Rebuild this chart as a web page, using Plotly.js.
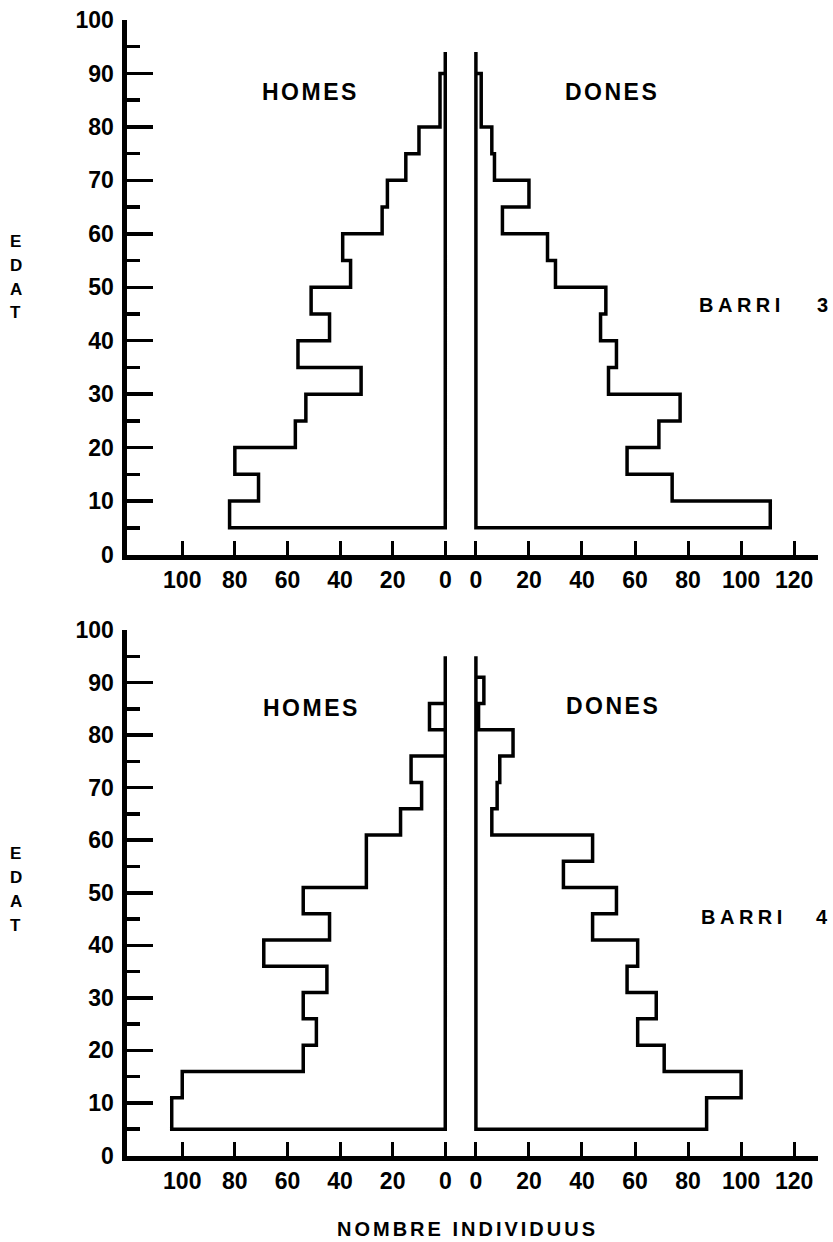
<!DOCTYPE html>
<html>
<head>
<meta charset="utf-8">
<script src="https://cdn.plot.ly/plotly-3.0.1.min.js"></script>
<style>
html,body{margin:0;padding:0;background:#fff;}
#chart{width:833px;height:1242px;}
</style>
</head>
<body>
<div id="chart"></div>
<script>
// ---- data ----
// Barri 3 (top panel): age-group edges and counts
var ageEdges3 = [5,10,15,20,25,30,35,40,45,50,55,60,65,70,75,80,85,90];
var homes3 = [82,71,80,57,53,32,56,44,51,36,39,24,22,15,10,2,2];
var dones3 = [111,74,57,69,77,50,53,47,49,30,27,10,20,7,6,2,2];
var zeroTop3 = 94;

// Barri 4 (bottom panel)
var ageEdges4 = [5,11,16,21,26,31,36,41,46,51,56,61,66,71,76,81,86,91];
var homes4 = [104,100,54,49,54,45,69,44,54,30,30,17,9,13,0,6,0];
var dones4 = [87,100,71,61,68,57,61,44,53,33,44,6,8,9,14,1,3];
var zeroTop4 = 95;

var menTicks = [0,20,40,60,80,100];
var womenTicks = [0,20,40,60,80,100,120];

// ---- geometry helpers ----
var W = 833, H = 1242;
function px(x){ return x / W; }
function py(y){ return 1 - y / H; }

function outline(edges, vals, top){
  var xs = [0, 0], ys = [top, edges[0]];
  for (var i = 0; i < vals.length; i++){
    xs.push(vals[i], vals[i]);
    ys.push(edges[i], edges[i+1]);
  }
  xs.push(0); ys.push(edges[edges.length-1]);
  return {x: xs, y: ys};
}

var lineStyle = {color:'#000', width:3.5};
function trace(o, xa, ya){
  return {type:'scatter', mode:'lines', x:o.x, y:o.y, xaxis:xa, yaxis:ya,
          line:lineStyle, hoverinfo:'skip', showlegend:false, cliponaxis:false};
}

var data = [
  trace(outline(ageEdges3, homes3, zeroTop3), 'x', 'y'),
  trace(outline(ageEdges3, dones3, zeroTop3), 'x2', 'y'),
  trace(outline(ageEdges4, homes4, zeroTop4), 'x3', 'y2'),
  trace(outline(ageEdges4, dones4, zeroTop4), 'x4', 'y2')
];

var F = 'Liberation Sans, Arial, sans-serif';
var tickFont = {family:F, size:23, color:'#000', weight:700};

var xSplit = px(460);
var menDom = [px(127), xSplit];
var womenDom = [xSplit, px(818)];
var topDom = [py(554.5), py(20)];
var botDom = [py(1155.5), py(630)];

function menAxis(anchor){
  return {domain:menDom, anchor:anchor, range:[121,-5.6], autorange:false,
    tickvals:menTicks, ticktext:menTicks.map(String), ticks:'inside', ticklen:14, tickwidth:3,
    tickcolor:'#000', showline:true, linewidth:5, linecolor:'#000', showgrid:false,
    zeroline:false, tickfont:tickFont, ticklabelstandoff:1, fixedrange:true};
}
function womenAxis(anchor){
  return {domain:womenDom, anchor:anchor, range:[-6,129], autorange:false,
    tickvals:womenTicks, ticktext:womenTicks.map(String), ticks:'inside', ticklen:14, tickwidth:3,
    tickcolor:'#000', showline:true, linewidth:5, linecolor:'#000', showgrid:false,
    zeroline:false, tickfont:tickFont, ticklabelstandoff:1, fixedrange:true};
}
function ageAxis(dom, anchor){
  return {domain:dom, anchor:anchor, range:[0,100], autorange:false, dtick:10, tick0:0,
    ticks:'inside', ticklen:26, tickwidth:3.5, tickcolor:'#000',
    minor:{ticks:'inside', ticklen:13, tickwidth:3.5, tickcolor:'#000', dtick:5, tick0:0, showgrid:false},
    showline:true, linewidth:5.5, linecolor:'#000', showgrid:false, zeroline:false,
    tickfont:tickFont, ticklabelstandoff:3, fixedrange:true};
}

function ann(text, x, y, size, spacing){
  return {xref:'paper', yref:'paper', x:px(x), y:py(y), xanchor:'center', yanchor:'middle',
    showarrow:false, font:{family:F, size:size, color:'#000', weight:700},
    text: spacing ? '<span style="letter-spacing:' + spacing + 'px">' + text + '</span>' : text};
}

var annotations = [
  ann('HOMES', 310, 92, 23, 2.5),
  ann('DONES', 612, 92, 23, 2.5),
  ann('HOMES', 311, 708, 23, 2.5),
  ann('DONES', 613, 706, 23, 2.5),
  ann('BARRI', 742, 305, 20, 4.5),
  ann('3', 822, 305, 20, 0),
  ann('BARRI', 744, 917, 20, 4.5),
  ann('4', 822, 917, 20, 0),
  ann('NOMBRE INDIVIDUUS', 467, 1229, 20, 3)
];
var edat = ['E','D','A','T'];
var edatTop = [242, 265, 289, 312];
var edatBot = [854, 877, 901, 925];
edat.forEach(function(l, i){
  annotations.push(ann(l, 16, edatTop[i], 17, 0));
  annotations.push(ann(l, 16, edatBot[i], 17, 0));
});

var layout = {
  width:W, height:H, margin:{l:0,r:0,t:0,b:0,autoexpand:false},
  paper_bgcolor:'#fff', plot_bgcolor:'rgba(0,0,0,0)', showlegend:false,
  font:{family:F, color:'#000'},
  xaxis: menAxis('y'),
  xaxis2: womenAxis('y'),
  xaxis3: menAxis('y2'),
  xaxis4: womenAxis('y2'),
  yaxis: ageAxis(topDom, 'x'),
  yaxis2: ageAxis(botDom, 'x3'),
  annotations: annotations
};

Plotly.newPlot('chart', data, layout, {staticPlot:true, displayModeBar:false});
</script>
</body>
</html>
